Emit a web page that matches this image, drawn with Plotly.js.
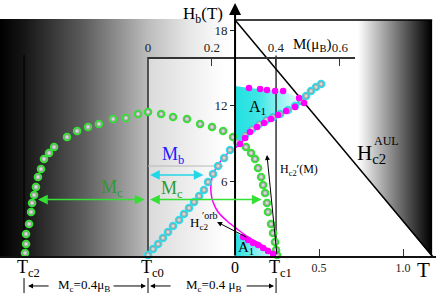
<!DOCTYPE html>
<html><head><meta charset="utf-8">
<script src="https://cdn.plot.ly/plotly-3.0.1.min.js"></script>
<style>html,body{margin:0;padding:0;background:#fff}#g{width:436px;height:301px}</style>
</head><body><div id="g"></div>
<script>
// ---- data (T in units of the T axis, H in tesla) ----
const domeT = [-1.250,-1.244,-1.244,-1.226,-1.214,-1.208,-1.196,-1.185,-1.173,-1.155,-1.137,-1.107,-1.077,-1.0,-0.940,-0.875,-0.810,-0.726,-0.649,-0.577,-0.518,-0.440,-0.369,-0.286,-0.208,-0.137,-0.071,-0.012,0.065,0.095,0.119,0.137,0.155,0.167,0.179,0.190,0.196,0.214,0.226,0.238,0.244,0.250];
const domeH = [0.32,1.03,1.83,2.62,3.57,4.29,4.92,5.56,6.35,6.98,7.78,8.25,8.73,9.52,10.0,10.32,10.56,10.95,11.03,11.35,11.51,11.35,11.11,10.95,10.56,10.32,10.0,9.52,8.73,8.25,7.78,7.06,6.35,5.71,5.08,4.29,3.57,2.62,1.90,1.19,0.56,0.16];
const riseT = [-0.518,-0.488,-0.458,-0.429,-0.399,-0.369,-0.333,-0.304,-0.274,-0.244,-0.214,-0.185,-0.161,-0.131,-0.101,-0.065,-0.030,0.012,0.060,0.101,0.143,0.185,0.226,0.268,0.315,0.357,0.393,0.423,0.452,0.482,0.512];
const riseH = [0.16,0.63,1.03,1.51,1.98,2.46,2.94,3.41,3.89,4.37,4.84,5.32,5.95,6.59,7.22,7.86,8.49,9.13,9.68,10.16,10.56,10.87,11.11,11.35,11.67,11.98,12.38,12.78,13.17,13.49,13.73];
const pinkTopT = [0.083,0.149,0.190,0.238,0.286,0.381,0.411,0.357,0.304,0.256,0.214,0.173,0.131,0.089,0.060,0.030];
const pinkTopH = [13.41,13.33,13.25,13.17,13.17,12.62,12.22,11.90,11.59,11.27,10.95,10.63,10.32,9.92,9.44,8.97];
const pinkLowT = [0.048,0.077,0.107,0.137,0.167,0.196,0.226];
const pinkLowH = [1.59,1.35,1.11,0.95,0.71,0.48,0.24];
const pinkLineT = [0.089,0.060,0.030,0.0,-0.042,-0.089,-0.125,-0.143,-0.143,-0.131,-0.101,-0.048,0.012,0.077,0.161,0.244];
const pinkLineH = [9.92,9.44,8.97,8.65,8.25,7.54,6.75,5.87,5.08,4.37,3.57,2.86,2.22,1.59,0.95,0.16];
const a1UpT = [0,0.083,0.149,0.238,0.286,0.381,0.411,0.357,0.304,0.256,0.214,0.179,0.125,0.089,0.060,0.030,0];
const a1UpH = [13.57,13.41,13.33,13.17,13.17,12.62,12.30,11.98,11.75,11.43,11.11,10.79,10.56,10.08,9.52,9.05,8.57];
const a1LowT = [0,0.048,0.107,0.167,0.226,0.250,0];
const a1LowH = [1.98,1.59,1.11,0.71,0.30,0,0];
const tTicks = [0.5,1.0], tTickText = ['0.5','1.0'];
const hTicks = [6,12,18];
const mTicks = [0,0.2,0.4,0.6], mTickText = ['0','0.2','0.4','0.6'];
const tcT = [-1.256,-0.518,0.244];
const tcLabel = ['T<sub>c2</sub>','T<sub>c0</sub>','T<sub>c1</sub>'];
const tcTop = [16.03,15.87,16.0];
const hTop = 18.81, tRight = 1.173, tDiagEnd = 1.179;

const serif = 'Liberation Serif, Times New Roman, serif';
const traces = [];
// background gradients
traces.push({x:[-1.40,0,0,-1.40],y:[0,0,18.89,18.89],mode:'none',fill:'toself',
  fillgradient:{type:'horizontal',start:-1.40,stop:0,colorscale:[[0,'#000'],[0.102,'#151515'],[0.362,'#5e5e5e'],[0.63,'#bcbcbc'],[0.80,'#e6e6e6'],[0.95,'#fcfcfc'],[1,'#fff']]},hoverinfo:'skip'});
traces.push({x:[tcT[1],0,0,tcT[1]],y:[0,0,tcTop[1],tcTop[1]],mode:'none',fill:'toself',
  fillgradient:{type:'horizontal',start:tcT[1],stop:-0.06,colorscale:[[0,'#dadada'],[1,'#fff']]},hoverinfo:'skip'});
traces.push({x:[0,tRight,tRight,0],y:[hTop,hTop,0,hTop],mode:'none',fill:'toself',
  fillgradient:{type:'horizontal',start:0.732,stop:1.167,colorscale:[[0,'#fff'],[1,'#000']]},hoverinfo:'skip'});
// A1 regions
traces.push({x:a1UpT,y:a1UpH,mode:'none',fill:'toself',
  fillgradient:{type:'horizontal',start:0,stop:0.40,colorscale:[[0,'#22e0e0'],[0.35,'#3ee6e6'],[1,'#f2ffff']]},hoverinfo:'skip'});
traces.push({x:a1LowT,y:a1LowH,mode:'none',fill:'toself',
  fillgradient:{type:'horizontal',start:0,stop:0.25,colorscale:[[0,'#22e0e0'],[1,'#e8ffff']]},hoverinfo:'skip'});
// structural lines
const ln = (x,y,w,c)=>({x:x,y:y,mode:'lines',line:{color:c||'#000',width:w},hoverinfo:'skip'});
traces.push(ln([0,tRight],[hTop,hTop],1.5));
traces.push(ln([0,tDiagEnd],[hTop,0],1.5));
traces.push(ln([tcT[0],tcT[0],null,tcT[1],tcT[1],null,tcT[2],tcT[2]],[tcTop[0],0,null,tcTop[1],0,null,tcTop[2],0],1.2));
traces.push(ln([tcT[0],tcT[0],null,tcT[1],tcT[1],null,tcT[2],tcT[2]],[-1.67,-2.86,null,-1.67,-2.86,null,-1.67,-2.86],1));
traces.push(ln([tcT[1],-0.071],[7.22,7.22],1,'#b8b8b8'));
// magenta line
traces.push({x:pinkLineT,y:pinkLineH,mode:'lines',line:{color:'#ff00ff',width:1.5,shape:'spline'},hoverinfo:'skip'});
// balls
const ball = (x,y,c)=>({x:x,y:y,mode:'markers',hoverinfo:'skip',
  marker:{size:7,color:'#7a7a7a',gradient:{type:'radial',color:'#f2f2f2'},line:{color:c,width:1.6}}});
traces.push(ball(domeT,domeH,'#2ee82e'));
traces.push(ball(riseT,riseH,'#2ee0ee'));
traces.push({x:pinkTopT,y:pinkTopH,mode:'markers',marker:{size:6.5,color:'#ff00ff'},hoverinfo:'skip'});
traces.push({x:pinkLowT,y:pinkLowH,mode:'markers',marker:{size:6.5,color:'#ff00ff'},hoverinfo:'skip'});
// dummy for top M axis
traces.push({x:[0],y:[0],xaxis:'x2',yaxis:'y',mode:'markers',marker:{opacity:0},hoverinfo:'skip'});

// arrows: tip (x,y), tail (ax,ay)
const arX  = [0, -1.173,-0.530,-0.506,0.167,-0.506,-0.179, 0.190,-0.107, -1.232,-0.530,-0.506,0.232];
const arY  = [20.16,4.56,4.56,4.56,4.56,6.51,6.51, 8.10,2.78, -2.30,-2.30,-2.30,-2.30];
const arAX = [0, -1.173,-0.530,-0.506,0.167,-0.506,-0.179, 0.250,0.077, -1.101,-0.732,-0.375,0.060];
const arAY = [0, 4.56,4.56,4.56,4.56,6.51,6.51, 0.08,1.51, -2.30,-2.30,-2.30,-2.30];
const arCol = ['#000','#33e033','#33e033','#33e033','#33e033','#22d8e8','#22d8e8','#000','#000','#000','#000','#000','#000'];
const arW = [2,1.5,1.5,1.5,1.5,1.5,1.5,1,1,1,1,1,1];
const annotations = [];
// double arrows drawn as a line + heads
annotations.push({x:arX[0],y:arY[0],ax:arAX[0],ay:arAY[0],xref:'x',yref:'y',axref:'x',ayref:'y',text:'',showarrow:true,arrowhead:2,arrowsize:1.2,arrowwidth:2,arrowcolor:'#000'});
const dbl = [[-1.173,-0.530],[-0.506,0.167]];
annotations.push({x:-1.173,y:4.56,ax:-0.530,ay:4.56,xref:'x',yref:'y',axref:'x',ayref:'y',text:'',showarrow:true,arrowhead:2,arrowside:'end+start',arrowsize:1.3,arrowwidth:1.5,arrowcolor:arCol[1]});
annotations.push({x:-0.506,y:4.56,ax:0.167,ay:4.56,xref:'x',yref:'y',axref:'x',ayref:'y',text:'',showarrow:true,arrowhead:2,arrowside:'end+start',arrowsize:1.3,arrowwidth:1.5,arrowcolor:arCol[3]});
annotations.push({x:-0.506,y:6.51,ax:-0.179,ay:6.51,xref:'x',yref:'y',axref:'x',ayref:'y',text:'',showarrow:true,arrowhead:2,arrowside:'end+start',arrowsize:1.3,arrowwidth:1.5,arrowcolor:arCol[5]});
for (let i=7;i<arX.length;i++){
  annotations.push({x:arX[i],y:arY[i],ax:arAX[i],ay:arAY[i],xref:'x',yref:'y',axref:'x',ayref:'y',text:'',showarrow:true,arrowhead:2,arrowsize:1,arrowwidth:arW[i],arrowcolor:arCol[i]});
}
// text labels
const txt = [
 ['H<sub>b</sub>(T)',-0.190,19.21,17,'#000'],
 ['M(μ<sub>B</sub>)',0.458,16.83,15,'#000'],
 ['M<sub>b</sub>',-0.369,8.02,18,'#1a1aff'],
 ['M<sub>c</sub>',-0.732,5.40,18,'#2e9a2e'],
 ['M<sub>c</sub>',-0.375,5.32,18,'#2e9a2e'],
 ['A<sub>1</sub>',0.131,11.90,16,'#000'],
 ['A<sub>1</sub>',0.065,0.71,15,'#000'],
 ['H<sub>c2</sub>′(M)',0.380,6.90,12,'#000'],
 ['H<sub>c2</sub>',-0.215,2.62,13,'#000'],
 ['′orb',-0.150,3.30,10,'#000'],
 ['H<sub>c2</sub>',0.815,8.20,21,'#000'],
 ['AUL',0.900,9.20,12,'#000'],
 ['0',0,-0.87,16,'#000'],
 ['T',1.119,-1.03,21,'#000'],
 ['M<sub>c</sub>=0.4μ<sub>B</sub>',-0.899,-2.30,13,'#000'],
 ['M<sub>c</sub>=0.4 μ<sub>B</sub>',-0.125,-2.30,13,'#000']
];
txt.forEach(t=>annotations.push({text:t[0],x:t[1],y:t[2],xref:'x',yref:'y',showarrow:false,font:{family:serif,size:t[3],color:t[4]}}));
tcT.forEach((t,i)=>annotations.push({text:tcLabel[i],x:t+0.025,y:-0.90,xref:'x',yref:'y',showarrow:false,font:{family:serif,size:18,color:'#000'}}));

const layout = {
  width:436,height:301,margin:{l:0,r:0,t:0,b:0},showlegend:false,
  paper_bgcolor:'#fff',plot_bgcolor:'rgba(0,0,0,0)',
  xaxis:{range:[-1.399,1.196],anchor:'free',position:0.1462,showgrid:false,zeroline:false,
    showline:true,linewidth:2,linecolor:'#111',ticks:'inside',ticklen:7,tickwidth:1,tickcolor:'#333',
    tickvals:tTicks,ticktext:tTickText,tickfont:{family:serif,size:12,color:'#222'},fixedrange:true},
  yaxis:{range:[-3.492,20.397],anchor:'free',position:0.539,showgrid:false,zeroline:false,showline:false,
    ticks:'outside',ticklen:5,tickwidth:1,tickcolor:'#222',tickvals:hTicks,
    tickfont:{family:serif,size:13,color:'#222'},fixedrange:true},
  xaxis2:{domain:[148/436,355/436],range:[0,0.647],anchor:'free',position:0.8106,side:'top',
    showgrid:false,zeroline:false,showline:true,linewidth:1.5,linecolor:'#333',
    ticks:'inside',ticklen:7,tickwidth:1,tickcolor:'#333',tickvals:mTicks,ticktext:mTickText,
    tickfont:{family:serif,size:13,color:'#222'},fixedrange:true},
  annotations:annotations
};
Plotly.newPlot('g',traces,layout,{staticPlot:true,displayModeBar:false});
</script></body></html>
